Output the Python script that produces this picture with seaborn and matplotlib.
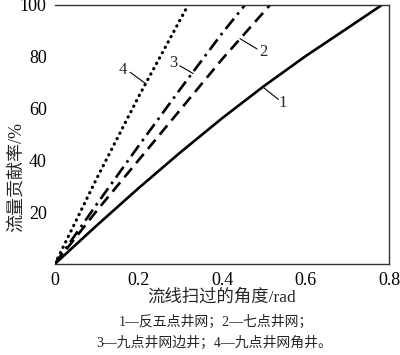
import pandas as pd
import matplotlib
matplotlib.use("Agg")
import matplotlib.pyplot as plt
import seaborn as sns

# curve data
x1 = [0, 0.1, 0.2, 0.3, 0.4, 0.5, 0.6, 0.7, 0.783]
y1 = [0, 14.8, 29.2, 43.0, 56.2, 68.6, 80.2, 91.0, 100]
x2 = [0, 0.1, 0.2, 0.3, 0.4, 0.515]
y2 = [0, 20.5, 40, 59.5, 79, 100]
x3 = [0, 0.1, 0.2, 0.3, 0.4, 0.455]
y3 = [0, 23, 45.5, 67.5, 89, 100]
x4 = [0, 0.1, 0.2, 0.319]
y4 = [0, 33, 64.5, 100]

curve_names = ["1", "2", "3", "4"]
x_ticks = [0, 0.2, 0.4, 0.6, 0.8]
x_tick_labels = ["0", "0.2", "0.4", "0.6", "0.8"]
y_ticks = [20, 40, 60, 80, 100]

x_label = "流线扫过的角度/rad"
y_label = "流量贡献率/%"
caption1 = "1—反五点井网；2—七点井网；"
caption2 = "3—九点井网边井；4—九点井网角井。"

# label positions (text, leader start on curve, leader end)
label_text_pos = [(0.546, 62), (0.498, 81.8), (0.283, 77.6), (0.163, 74.9)]
leader_start = [(0.500, 68), (0.443, 87), (0.331, 73.5), (0.218, 69.5)]
leader_end = [(0.535, 63.5), (0.484, 83), (0.299, 76.5), (0.180, 74)]

sns.set_theme(style="white")
mixed = ["Liberation Serif", "Noto Sans CJK SC", "DejaVu Sans"]
plt.rcParams["font.family"] = mixed

fig = plt.figure(figsize=(4.0, 3.55), dpi=100)
ax = fig.add_axes([0.1375, 0.257, 0.835, 0.729])

styles = [
    dict(linestyle="-", linewidth=1.9),
    dict(dashes=(4.5, 2.5), linewidth=1.9),
    dict(dashes=(5, 2, 1, 2), linewidth=1.9),
    dict(dashes=(0.1, 1.8), dash_capstyle="round", linewidth=2.3),
]
for xs, ys, st in zip([x1, x2, x3, x4], [y1, y2, y3, y4], styles):
    df = pd.DataFrame({"x": xs, "y": ys})
    sns.lineplot(data=df, x="x", y="y", ax=ax, color="black", **st)

for name, tp, ls, le in zip(curve_names, label_text_pos, leader_start, leader_end):
    ax.plot([ls[0], le[0]], [ls[1], le[1]], color="black", linewidth=0.8)
    ax.text(tp[0], tp[1], name, ha="center", va="center", fontsize=12,
            family="Liberation Serif")

ax.set_xlim(0, 0.8)
ax.set_ylim(0, 100)
ax.set_xticks(x_ticks)
ax.set_xticklabels(x_tick_labels)
ax.set_yticks(y_ticks)
ax.tick_params(axis="x", direction="in", length=4, width=0.8, labelsize=13,
               pad=6, colors="black")
ax.tick_params(axis="y", direction="out", length=4, width=0.8, labelsize=13,
               pad=2, colors="black")
for lab in ax.get_xticklabels() + ax.get_yticklabels():
    lab.set_family("Liberation Serif")

for side in ["top", "right", "bottom"]:
    ax.spines[side].set_visible(True)
    ax.spines[side].set_color("#333333")
    ax.spines[side].set_linewidth(1.0)
ax.spines["left"].set_visible(False)

ax.set_xlabel("")
ax.set_ylabel("")
fig.text(0.555, 0.163, x_label, ha="center", va="center", fontsize=12.5,
         family=mixed)
fig.text(0.04, 0.50, y_label, ha="center", va="center", fontsize=13,
         rotation=90, family=mixed)
fig.text(0.54, 0.093, caption1, ha="center", va="center", fontsize=10,
         family=mixed)
fig.text(0.535, 0.033, caption2, ha="center", va="center", fontsize=10,
         family=mixed)

fig.savefig("out.png", dpi=100)
plt.close(fig)
